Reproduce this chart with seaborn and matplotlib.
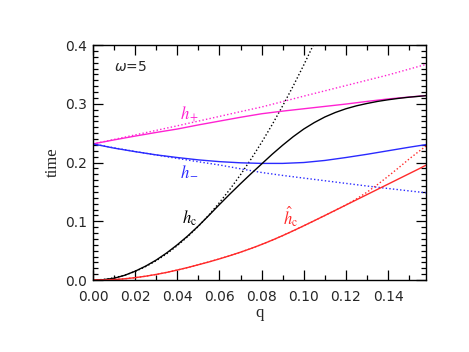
#!/usr/bin/env python3
"""
Growth times h+, h-, h_c and hat h_c versus q for omega = 5,
full solutions (solid) against their small-q approximations (dotted).
"""

import matplotlib
matplotlib.use('Agg')
import matplotlib.pyplot as plt
from matplotlib.ticker import MultipleLocator
import seaborn as sns

# coarse q grid for the gently curved branches
q = [0.00, 0.01, 0.02, 0.03, 0.04, 0.05, 0.06, 0.07, 0.08,
     0.09, 0.10, 0.11, 0.12, 0.13, 0.14, 0.15, 0.158]

# finer q grid for the strongly curved branches
q_fine = [0.000, 0.005, 0.010, 0.015, 0.020, 0.025, 0.030, 0.035, 0.040, 0.045,
          0.050, 0.055, 0.060, 0.065, 0.070, 0.075, 0.080, 0.085, 0.090, 0.095,
          0.100, 0.105, 0.110, 0.115, 0.120, 0.125, 0.130, 0.135, 0.140, 0.145,
          0.150, 0.155, 0.158]

h_plus = [0.2317, 0.2385, 0.2450, 0.2512, 0.2570, 0.2640, 0.2705, 0.2770, 0.2830,
          0.2875, 0.2915, 0.2955, 0.2995, 0.3040, 0.3082, 0.3115, 0.3140]
h_plus_approx = [0.2317, 0.2393, 0.2470, 0.2547, 0.2625, 0.2705, 0.2785, 0.2866, 0.2945,
                 0.3037, 0.3130, 0.3220, 0.3310, 0.3400, 0.3490, 0.3590, 0.3670]

h_minus = [0.2317, 0.2245, 0.2185, 0.2130, 0.2085, 0.2045, 0.2015, 0.1995, 0.1985,
           0.1985, 0.2000, 0.2035, 0.2085, 0.2140, 0.2200, 0.2260, 0.2305]
h_minus_approx = [0.2317, 0.2250, 0.2188, 0.2128, 0.2070, 0.2013, 0.1958, 0.1893, 0.1830,
                  0.1780, 0.1735, 0.1690, 0.1645, 0.1600, 0.1558, 0.1517, 0.1485]

h_c = [0.0000, 0.0006, 0.0030, 0.0080, 0.0150, 0.0237, 0.0340, 0.0462, 0.0600, 0.0752,
       0.0920, 0.1100, 0.1285, 0.1465, 0.1640, 0.1810, 0.1975, 0.2140, 0.2295, 0.2440,
       0.2570, 0.2680, 0.2775, 0.2852, 0.2915, 0.2965, 0.3005, 0.3040, 0.3068, 0.3092,
       0.3112, 0.3128, 0.3138]
q_c_approx = [0.000, 0.005, 0.010, 0.015, 0.020, 0.025, 0.030, 0.035, 0.040, 0.045,
              0.050, 0.055, 0.060, 0.065, 0.070, 0.075, 0.080, 0.085, 0.090, 0.095,
              0.100, 0.105, 0.110]
h_c_approx = [0.0000, 0.0009, 0.0037, 0.0082, 0.0146, 0.0229, 0.0329, 0.0448, 0.0586, 0.0741,
              0.0915, 0.1107, 0.1318, 0.1546, 0.1793, 0.2059, 0.2342, 0.2644, 0.2965, 0.3303,
              0.3660, 0.4035, 0.4429]

hh_c = [0.0000, 0.0002, 0.0008, 0.0021, 0.0040, 0.0065, 0.0095, 0.0130, 0.0170, 0.0213,
        0.0260, 0.0308, 0.0360, 0.0415, 0.0474, 0.0537, 0.0605, 0.0678, 0.0756, 0.0838,
        0.0923, 0.1010, 0.1098, 0.1187, 0.1276, 0.1365, 0.1454, 0.1543, 0.1632, 0.1721,
        0.1810, 0.1899, 0.1955]
hh_c_approx = [0.0000, 0.0002, 0.0008, 0.0021, 0.0040, 0.0065, 0.0095, 0.0130, 0.0170, 0.0213,
               0.0260, 0.0308, 0.0360, 0.0415, 0.0474, 0.0537, 0.0605, 0.0678, 0.0756, 0.0838,
               0.0923, 0.1010, 0.1098, 0.1187, 0.1278, 0.1380, 0.1495, 0.1625, 0.1765, 0.1910,
               0.2060, 0.2200, 0.2280]

C_PLUS = '#ff22d2'
C_MINUS = '#2a2aff'
C_C = 'black'
C_HAT = '#ff2a2a'

sns.set_style('ticks')
plt.rcParams['font.family'] = ['DejaVu Sans']
plt.rcParams['mathtext.fontset'] = 'stix'

fig = plt.figure(figsize=(4.69, 3.52), dpi=100)
ax = fig.add_axes([0.1983, 0.2045, 0.7100, 0.6676])

dots = (0, (1, 1.6))
curves = [
    (q, h_plus_approx, C_PLUS, dots),
    (q, h_minus_approx, C_MINUS, dots),
    (q_c_approx, h_c_approx, C_C, dots),
    (q_fine, hh_c_approx, C_HAT, dots),
    (q, h_plus, C_PLUS, '-'),
    (q, h_minus, C_MINUS, '-'),
    (q_fine, h_c, C_C, '-'),
    (q_fine, hh_c, C_HAT, '-'),
]
for xs, ys, col, ls in curves:
    sns.lineplot(x=xs, y=ys, ax=ax, color=col, linestyle=ls, linewidth=1.0,
                 estimator=None, sort=False)

ax.set_xlim(0, 0.158)
ax.set_ylim(0, 0.4)
ax.xaxis.set_major_locator(MultipleLocator(0.02))
ax.xaxis.set_minor_locator(MultipleLocator(0.01))
ax.yaxis.set_major_locator(MultipleLocator(0.1))
ax.yaxis.set_minor_locator(MultipleLocator(0.01))
ax.xaxis.set_major_formatter(plt.FormatStrFormatter('%.2f'))
ax.yaxis.set_major_formatter(plt.FormatStrFormatter('%.1f'))

ax.tick_params(which='both', direction='in', top=True, right=True,
               color='black', width=0.9, labelsize=10)
ax.tick_params(which='major', length=7)
ax.tick_params(which='minor', length=3.5)
ax.tick_params(axis='x', pad=7)
ax.tick_params(axis='y', pad=4)
for side in ax.spines.values():
    side.set_visible(True)
    side.set_color('black')
    side.set_linewidth(1.0)

# nudge edge y labels inward like the original
fig.canvas.draw()
ylabels = ax.get_yticklabels()
ylabels[0].set_va('bottom')
ylabels[-1].set_va('top')

ax.set_xlabel('q', family='Liberation Serif', fontsize=12, labelpad=1)
ax.set_ylabel('time', family='Liberation Serif', fontsize=12, labelpad=3)

ax.text(0.010, 0.363, r'$\omega$=5', fontsize=10, va='center', ha='left',
        math_fontfamily='dejavusans')
ax.text(0.0415, 0.283, r'$h_+$', color=C_PLUS, fontsize=12, va='center', ha='left')
ax.text(0.0415, 0.186, r'$h_-$', color=C_MINUS, fontsize=12, va='center', ha='left')
ax.text(0.0420, 0.105, r'$h_{\rm c}$', color=C_C, fontsize=12, va='center', ha='left')
ax.text(0.0900, 0.108, r'$\hat{h}_{\rm c}$', color=C_HAT, fontsize=12, va='center', ha='left')

fig.savefig('out.png', dpi=100)
